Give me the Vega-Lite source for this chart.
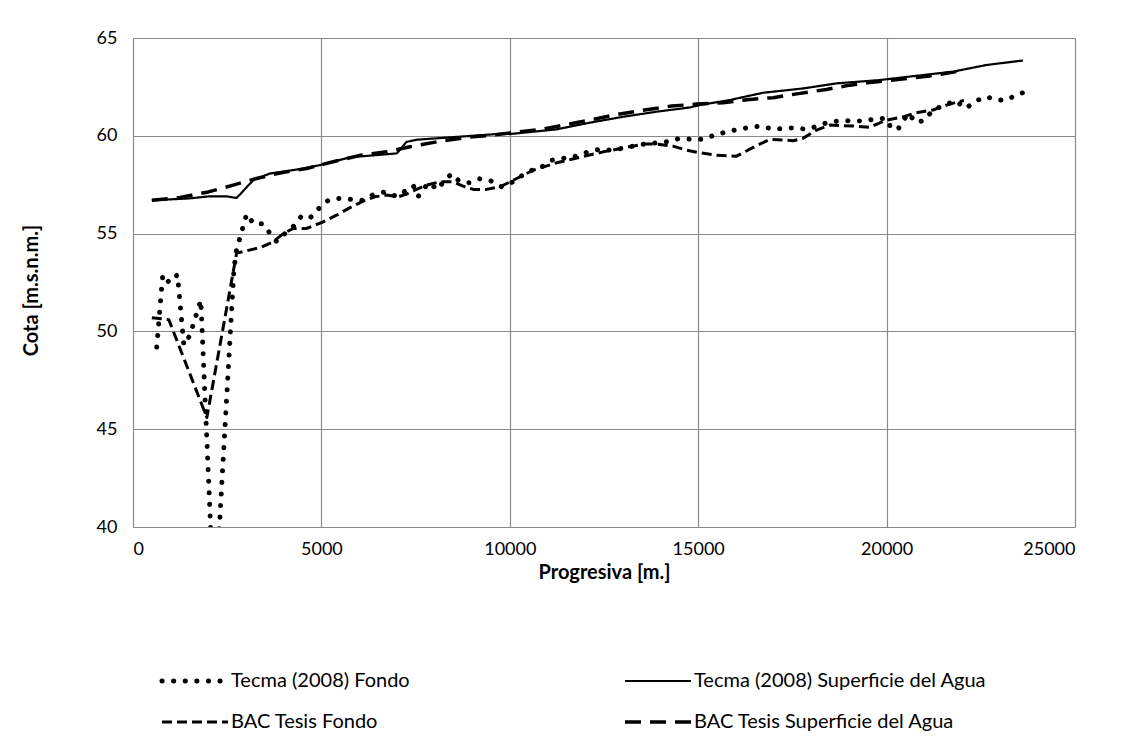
{
  "$schema": "https://vega.github.io/schema/vega-lite/v6.json",
  "width": 942,
  "height": 489,
  "autosize": {"type": "none"},
  "padding": {"left": 133, "top": 38, "right": 57, "bottom": 226},
  "background": "white",
  "config": {"view": {"stroke": null}, "font": "Lato"},
  "datasets": {
    "tecma_fondo": [
      {"progresiva": 630, "cota": 49.2}, {"progresiva": 790, "cota": 52.9}, {"progresiva": 960, "cota": 52.5},
      {"progresiva": 1180, "cota": 52.9}, {"progresiva": 1350, "cota": 49.3}, {"progresiva": 1510, "cota": 49.8},
      {"progresiva": 1800, "cota": 51.6}, {"progresiva": 2160, "cota": 35.5}, {"progresiva": 2680, "cota": 53.2},
      {"progresiva": 2750, "cota": 54.2}, {"progresiva": 3016, "cota": 56.0}, {"progresiva": 3200, "cota": 55.5},
      {"progresiva": 3440, "cota": 55.5}, {"progresiva": 3600, "cota": 55.1}, {"progresiva": 3810, "cota": 54.6},
      {"progresiva": 4030, "cota": 55.0}, {"progresiva": 4250, "cota": 55.35}, {"progresiva": 4475, "cota": 55.9},
      {"progresiva": 4700, "cota": 55.8}, {"progresiva": 4940, "cota": 56.3}, {"progresiva": 5180, "cota": 56.7},
      {"progresiva": 5490, "cota": 56.8}, {"progresiva": 5800, "cota": 56.75}, {"progresiva": 6090, "cota": 56.7},
      {"progresiva": 6380, "cota": 57.0}, {"progresiva": 6690, "cota": 57.13}, {"progresiva": 7000, "cota": 56.9},
      {"progresiva": 7440, "cota": 57.45}, {"progresiva": 7570, "cota": 56.9}, {"progresiva": 7840, "cota": 57.6},
      {"progresiva": 8100, "cota": 57.25}, {"progresiva": 8230, "cota": 57.65}, {"progresiva": 8455, "cota": 58.05},
      {"progresiva": 8675, "cota": 57.65}, {"progresiva": 8940, "cota": 57.6}, {"progresiva": 9200, "cota": 57.8},
      {"progresiva": 9490, "cota": 57.7}, {"progresiva": 9780, "cota": 57.4}, {"progresiva": 10090, "cota": 57.65},
      {"progresiva": 10310, "cota": 57.95}, {"progresiva": 10530, "cota": 58.2}, {"progresiva": 10840, "cota": 58.4},
      {"progresiva": 11110, "cota": 58.75}, {"progresiva": 11420, "cota": 58.85}, {"progresiva": 11730, "cota": 58.95},
      {"progresiva": 12040, "cota": 59.15}, {"progresiva": 12350, "cota": 59.3}, {"progresiva": 12650, "cota": 59.27},
      {"progresiva": 12965, "cota": 59.35}, {"progresiva": 13270, "cota": 59.47}, {"progresiva": 13580, "cota": 59.58},
      {"progresiva": 13890, "cota": 59.64}, {"progresiva": 14200, "cota": 59.7}, {"progresiva": 14510, "cota": 59.87},
      {"progresiva": 14820, "cota": 59.82}, {"progresiva": 15130, "cota": 59.82}, {"progresiva": 15440, "cota": 60.04},
      {"progresiva": 15750, "cota": 60.2}, {"progresiva": 16060, "cota": 60.33}, {"progresiva": 16370, "cota": 60.43},
      {"progresiva": 16680, "cota": 60.5}, {"progresiva": 16990, "cota": 60.33}, {"progresiva": 17280, "cota": 60.38},
      {"progresiva": 17560, "cota": 60.41}, {"progresiva": 17870, "cota": 60.33}, {"progresiva": 18180, "cota": 60.5},
      {"progresiva": 18490, "cota": 60.72}, {"progresiva": 18800, "cota": 60.77}, {"progresiva": 19110, "cota": 60.77},
      {"progresiva": 19420, "cota": 60.75}, {"progresiva": 19730, "cota": 60.89}, {"progresiva": 19980, "cota": 60.89},
      {"progresiva": 20130, "cota": 60.38}, {"progresiva": 20300, "cota": 60.33}, {"progresiva": 20570, "cota": 61.15},
      {"progresiva": 20790, "cota": 60.67}, {"progresiva": 21010, "cota": 60.8}, {"progresiva": 21230, "cota": 61.32},
      {"progresiva": 21540, "cota": 61.57}, {"progresiva": 21830, "cota": 61.79}, {"progresiva": 22100, "cota": 61.4},
      {"progresiva": 22365, "cota": 61.78}, {"progresiva": 22650, "cota": 62.0}, {"progresiva": 22910, "cota": 61.83},
      {"progresiva": 23195, "cota": 61.83}, {"progresiva": 23470, "cota": 62.13}, {"progresiva": 23620, "cota": 62.2}
    ],
    "tecma_superficie": [
      {"progresiva": 500, "cota": 56.7}, {"progresiva": 1500, "cota": 56.8}, {"progresiva": 2000, "cota": 56.9},
      {"progresiva": 2500, "cota": 56.9}, {"progresiva": 2750, "cota": 56.82}, {"progresiva": 3190, "cota": 57.73},
      {"progresiva": 3630, "cota": 58.07}, {"progresiva": 4430, "cota": 58.3}, {"progresiva": 4960, "cota": 58.5},
      {"progresiva": 5760, "cota": 58.9}, {"progresiva": 7000, "cota": 59.1}, {"progresiva": 7260, "cota": 59.69},
      {"progresiva": 7530, "cota": 59.8}, {"progresiva": 9740, "cota": 60.1}, {"progresiva": 10000, "cota": 60.09},
      {"progresiva": 11240, "cota": 60.33}, {"progresiva": 12120, "cota": 60.67}, {"progresiva": 13000, "cota": 60.97},
      {"progresiva": 13890, "cota": 61.23}, {"progresiva": 14780, "cota": 61.45}, {"progresiva": 15040, "cota": 61.57},
      {"progresiva": 15840, "cota": 61.83}, {"progresiva": 16720, "cota": 62.2}, {"progresiva": 17780, "cota": 62.42},
      {"progresiva": 18670, "cota": 62.68}, {"progresiva": 19820, "cota": 62.85}, {"progresiva": 20440, "cota": 62.99},
      {"progresiva": 21760, "cota": 63.28}, {"progresiva": 22650, "cota": 63.62}, {"progresiva": 23620, "cota": 63.85}
    ],
    "bac_fondo": [
      {"progresiva": 500, "cota": 50.7}, {"progresiva": 950, "cota": 50.6}, {"progresiva": 1960, "cota": 45.6},
      {"progresiva": 2750, "cota": 54.0}, {"progresiva": 3400, "cota": 54.3}, {"progresiva": 3720, "cota": 54.58},
      {"progresiva": 3990, "cota": 55.0}, {"progresiva": 4250, "cota": 55.26}, {"progresiva": 4600, "cota": 55.26},
      {"progresiva": 5050, "cota": 55.6}, {"progresiva": 5400, "cota": 55.94}, {"progresiva": 5760, "cota": 56.33},
      {"progresiva": 6110, "cota": 56.66}, {"progresiva": 6420, "cota": 56.88}, {"progresiva": 6730, "cota": 56.97},
      {"progresiva": 7040, "cota": 56.88}, {"progresiva": 7260, "cota": 57.02}, {"progresiva": 7480, "cota": 57.22},
      {"progresiva": 7790, "cota": 57.48}, {"progresiva": 8150, "cota": 57.65}, {"progresiva": 8500, "cota": 57.65},
      {"progresiva": 8760, "cota": 57.43}, {"progresiva": 9030, "cota": 57.26}, {"progresiva": 9380, "cota": 57.26},
      {"progresiva": 9740, "cota": 57.39}, {"progresiva": 10270, "cota": 57.9}, {"progresiva": 10620, "cota": 58.24},
      {"progresiva": 11240, "cota": 58.62}, {"progresiva": 11860, "cota": 58.9}, {"progresiva": 12480, "cota": 59.18},
      {"progresiva": 13100, "cota": 59.41}, {"progresiva": 13580, "cota": 59.58}, {"progresiva": 13890, "cota": 59.58},
      {"progresiva": 14330, "cota": 59.47}, {"progresiva": 14690, "cota": 59.27}, {"progresiva": 15040, "cota": 59.13},
      {"progresiva": 15490, "cota": 59.01}, {"progresiva": 16020, "cota": 58.96}, {"progresiva": 16460, "cota": 59.41},
      {"progresiva": 16900, "cota": 59.82}, {"progresiva": 17520, "cota": 59.75}, {"progresiva": 17780, "cota": 59.87},
      {"progresiva": 18140, "cota": 60.29}, {"progresiva": 18490, "cota": 60.55}, {"progresiva": 19110, "cota": 60.5},
      {"progresiva": 19550, "cota": 60.43}, {"progresiva": 19995, "cota": 60.8}, {"progresiva": 20440, "cota": 60.97},
      {"progresiva": 20790, "cota": 61.18}, {"progresiva": 21230, "cota": 61.32}, {"progresiva": 21590, "cota": 61.57},
      {"progresiva": 21900, "cota": 61.74}, {"progresiva": 22050, "cota": 61.8}
    ],
    "bac_superficie": [
      {"progresiva": 500, "cota": 56.7}, {"progresiva": 1250, "cota": 56.85}, {"progresiva": 2000, "cota": 57.13},
      {"progresiva": 2660, "cota": 57.48}, {"progresiva": 3280, "cota": 57.82}, {"progresiva": 3900, "cota": 58.1},
      {"progresiva": 4610, "cota": 58.33}, {"progresiva": 5310, "cota": 58.67}, {"progresiva": 6020, "cota": 59.0},
      {"progresiva": 6730, "cota": 59.18}, {"progresiva": 7350, "cota": 59.44}, {"progresiva": 8060, "cota": 59.69},
      {"progresiva": 8850, "cota": 59.92}, {"progresiva": 9560, "cota": 60.04}, {"progresiva": 10220, "cota": 60.2},
      {"progresiva": 10840, "cota": 60.33}, {"progresiva": 11510, "cota": 60.58}, {"progresiva": 12210, "cota": 60.84},
      {"progresiva": 12880, "cota": 61.1}, {"progresiva": 13580, "cota": 61.32}, {"progresiva": 14290, "cota": 61.52},
      {"progresiva": 14955, "cota": 61.62}, {"progresiva": 15660, "cota": 61.69}, {"progresiva": 16370, "cota": 61.86},
      {"progresiva": 16990, "cota": 61.95}, {"progresiva": 17700, "cota": 62.17}, {"progresiva": 18400, "cota": 62.37},
      {"progresiva": 19020, "cota": 62.59}, {"progresiva": 19550, "cota": 62.72}, {"progresiva": 20350, "cota": 62.89},
      {"progresiva": 21140, "cota": 63.06}, {"progresiva": 21850, "cota": 63.28}, {"progresiva": 22050, "cota": 63.35}
    ]
  },
  "layer": [
    {
      "data": {"name": "tecma_fondo"},
      "transform": [{"calculate": "'Tecma (2008) Fondo'", "as": "serie"}],
      "mark": {"type": "line", "clip": true, "strokeCap": "round", "strokeJoin": "round", "strokeWidth": 5}
    },
    {
      "data": {"name": "tecma_superficie"},
      "transform": [{"calculate": "'Tecma (2008) Superficie del Agua'", "as": "serie"}],
      "mark": {"type": "line", "clip": true, "strokeCap": "butt", "strokeJoin": "round", "strokeWidth": 2.2}
    },
    {
      "data": {"name": "bac_fondo"},
      "transform": [{"calculate": "'BAC Tesis Fondo'", "as": "serie"}],
      "mark": {"type": "line", "clip": true, "strokeCap": "butt", "strokeJoin": "round", "strokeWidth": 3}
    },
    {
      "data": {"name": "bac_superficie"},
      "transform": [{"calculate": "'BAC Tesis Superficie del Agua'", "as": "serie"}],
      "mark": {"type": "line", "clip": true, "strokeCap": "butt", "strokeJoin": "round", "strokeWidth": 3.5}
    }
  ],
  "encoding": {
    "x": {
      "field": "progresiva", "type": "quantitative",
      "scale": {"domain": [0, 25000], "nice": false},
      "axis": {
        "values": [0, 5000, 10000, 15000, 20000, 25000], "format": "d", "title": "Progresiva [m.]",
        "grid": true, "gridColor": "#8a8a8a", "gridWidth": 1.2, "domain": false, "ticks": false,
        "labelPadding": 13, "labelFontSize": 18, "labelColor": "#000",
        "titleFontSize": 20, "titleFontWeight": "bold", "titleColor": "#000", "titleY": 35
      }
    },
    "y": {
      "field": "cota", "type": "quantitative",
      "scale": {"domain": [40, 65], "nice": false, "zero": false},
      "axis": {
        "values": [40, 45, 50, 55, 60, 65], "title": "Cota [m.s.n.m.]",
        "grid": true, "gridColor": "#8a8a8a", "gridWidth": 1.2, "domain": false, "ticks": false,
        "labelPadding": 16, "labelFontSize": 18, "labelColor": "#000",
        "titleFontSize": 20, "titleFontWeight": "bold", "titleColor": "#000", "titleX": -92, "titleY": 252
      }
    },
    "color": {
      "field": "serie", "type": "nominal",
      "scale": {
        "domain": ["Tecma (2008) Fondo", "BAC Tesis Fondo", "Tecma (2008) Superficie del Agua", "BAC Tesis Superficie del Agua"],
        "range": ["#000000", "#000000", "#000000", "#000000"]
      },
      "legend": {
        "orient": "none", "legendX": 52, "legendY": 633, "columns": 2, "title": null,
        "symbolType": "stroke", "symbolSize": 4356, "symbolStrokeColor": "#000",
        "labelFontSize": 20, "labelColor": "#000", "labelLimit": 600, "labelOffset": 26,
        "columnPadding": 208, "rowPadding": 21,
        "encode": {"symbols": {"update": {
          "strokeCap": {"signal": "datum.value === 'Tecma (2008) Fondo' ? 'round' : 'butt'"},
          "strokeWidth": {"signal": "datum.value === 'Tecma (2008) Fondo' ? 5 : datum.value === 'Tecma (2008) Superficie del Agua' ? 2.2 : datum.value === 'BAC Tesis Fondo' ? 3 : 3.5"}
        }}}
      }
    },
    "strokeDash": {
      "field": "serie", "type": "nominal",
      "scale": {
        "domain": ["Tecma (2008) Fondo", "BAC Tesis Fondo", "Tecma (2008) Superficie del Agua", "BAC Tesis Superficie del Agua"],
        "range": [[0.1, 11.5], [10, 5], [1, 0], [16, 9]]
      },
      "legend": {
        "orient": "none", "legendX": 52, "legendY": 633, "columns": 2, "title": null,
        "symbolType": "stroke", "symbolSize": 4356, "symbolStrokeColor": "#000",
        "labelFontSize": 20, "labelColor": "#000", "labelLimit": 600, "labelOffset": 26,
        "columnPadding": 208, "rowPadding": 21,
        "encode": {"symbols": {"update": {
          "strokeCap": {"signal": "datum.value === 'Tecma (2008) Fondo' ? 'round' : 'butt'"},
          "strokeWidth": {"signal": "datum.value === 'Tecma (2008) Fondo' ? 5 : datum.value === 'Tecma (2008) Superficie del Agua' ? 2.2 : datum.value === 'BAC Tesis Fondo' ? 3 : 3.5"}
        }}}
      }
    }
  }
}
